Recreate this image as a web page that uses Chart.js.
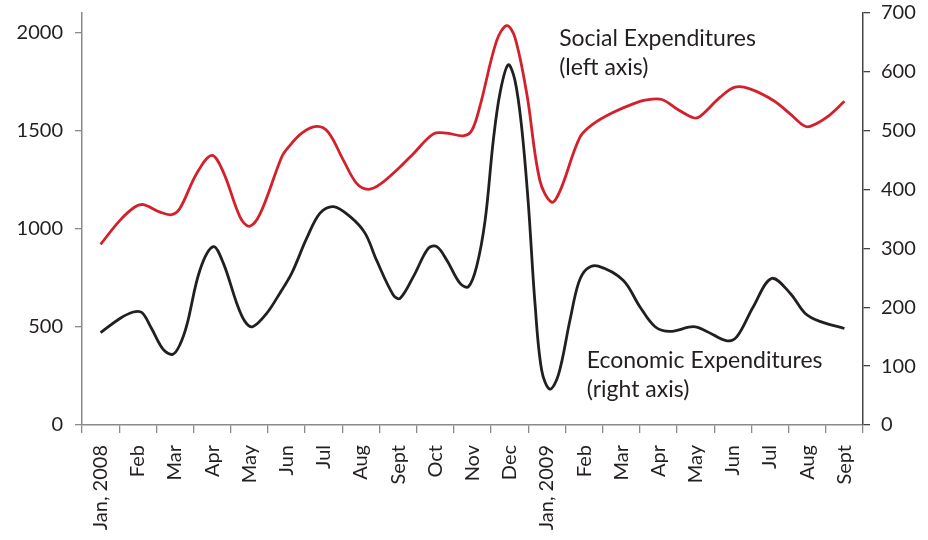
<!DOCTYPE html>
<html>
<head>
<meta charset="utf-8">
<script src="https://cdn.jsdelivr.net/npm/chart.js@4.4.1/dist/chart.umd.min.js"></script>
<style>
  html, body { margin: 0; padding: 0; background: #ffffff; }
  #wrap { width: 928px; height: 540px; }
</style>
</head>
<body>
<div id="wrap"><canvas id="chart" width="928" height="540"></canvas></div>
<script>
// Month categories along the bottom axis
const monthLabels = [
  'Jan, 2008', 'Feb', 'Mar', 'Apr', 'May', 'Jun', 'Jul', 'Aug', 'Sept', 'Oct', 'Nov', 'Dec',
  'Jan, 2009', 'Feb', 'Mar', 'Apr', 'May', 'Jun', 'Jul', 'Aug', 'Sept'
];

// Social expenditures (left axis); position in months from Jan 2008
const socialMonths = [
  0.00, 0.52, 0.92, 1.15, 1.60, 1.91, 2.13, 2.58, 2.99, 3.30, 3.75, 4.00, 4.29, 4.87, 5.05,
  5.41, 5.81, 6.12, 6.53, 6.89, 7.20, 7.51, 8.05, 8.41, 8.95, 9.31, 9.75, 9.98, 10.20, 10.65,
  10.92, 11.14, 11.46, 11.81, 12.13, 12.36, 12.89, 13.25, 13.79, 14.32, 14.68, 15.09, 15.49,
  15.94, 16.12, 16.66, 17.06, 17.46, 18.09, 18.54, 18.90, 19.08, 19.53, 20.00
];
const socialValues = [
  921, 1043, 1111, 1123, 1085, 1072, 1103, 1281, 1374, 1289, 1060, 1013, 1077, 1366, 1416,
  1488, 1522, 1493, 1349, 1230, 1201, 1226, 1315, 1383, 1484, 1488, 1474, 1501, 1625, 1959,
  2036, 1976, 1688, 1247, 1136, 1196, 1467, 1535, 1594, 1637, 1657, 1659, 1612,
  1566, 1573, 1671, 1722, 1713, 1654, 1586, 1527, 1522, 1569, 1650
];

// Economic expenditures (right axis); position in months from Jan 2008
const economicMonths = [
  0.00, 0.52, 0.88, 1.11, 1.37, 1.69, 1.94, 2.13, 2.32, 2.67, 3.03, 3.30, 3.66, 3.88, 4.09,
  4.47, 4.82, 5.14, 5.54, 5.90, 6.26, 6.71, 7.11, 7.42, 7.87, 8.05, 8.41, 8.81, 9.04, 9.31,
  9.66, 9.89, 10.11, 10.34, 10.56, 10.74, 10.96, 11.14, 11.32, 11.50, 11.68, 11.86, 12.08,
  12.31, 12.62, 12.85, 13.07, 13.38, 14.05, 14.50, 14.91, 15.31, 15.94, 16.30, 16.84, 17.11,
  17.55, 18.04, 18.54, 18.94, 19.34, 20.00
];
const economicValues = [
  157, 181, 192, 191, 164, 128, 120, 136, 170, 263, 303, 275, 207, 176, 167,
  190, 224, 258, 317, 360, 371, 354, 326, 280, 221, 215, 252, 300, 303, 280,
  241, 235, 269, 348, 484, 564, 612, 586, 507, 377, 207, 93, 61,
  85, 178, 241, 265, 270, 246, 201, 167, 159, 167, 159, 143, 150,
  201, 249, 224, 190, 176, 164
];

// Axis tick values
const leftTicks = [0, 500, 1000, 1500, 2000];
const rightTicks = [0, 100, 200, 300, 400, 500, 600, 700];

// Series captions
const socialCaption = ['Social Expenditures', '(left axis)'];
const economicCaption = ['Economic Expenditures', '(right axis)'];

const FONT = 'Lato, "Open Sans", sans-serif';
const TEXT = '#231f20';

const toPoints = (xs, ys) => xs.map((m, i) => ({ x: m, y: ys[i] }));

// Fixed axis widths; no extra label padding above/below the plot
const fixVertical = width => s => {
  s.width = width;
  s.paddingTop = 0;
  s.paddingBottom = 0;
};

// Draws the two series captions next to their lines, placed through the scales
const captionPlugin = {
  id: 'captions',
  afterDatasetsDraw(chart, args, opts) {
    const ctx = chart.ctx;
    ctx.save();
    ctx.font = opts.size + 'px ' + FONT;
    ctx.fillStyle = TEXT;
    ctx.textAlign = 'left';
    ctx.textBaseline = 'alphabetic';
    opts.items.forEach(it => {
      const x = chart.scales.x.getPixelForValue(it.month);
      const y = chart.scales[it.axis].getPixelForValue(it.value);
      it.lines.forEach((ln, k) => ctx.fillText(ln, x, y + k * opts.lineHeight));
    });
    ctx.restore();
  }
};

new Chart(document.getElementById('chart'), {
  type: 'line',
  data: {
    datasets: [
      {
        label: 'Social Expenditures',
        data: toPoints(socialMonths, socialValues),
        xAxisID: 'x', yAxisID: 'yL',
        borderColor: '#d3202a', borderWidth: 2.8,
        pointRadius: 0, tension: 0.35, fill: false
      },
      {
        label: 'Economic Expenditures',
        data: toPoints(economicMonths, economicValues),
        xAxisID: 'x', yAxisID: 'yR',
        borderColor: '#231f20', borderWidth: 2.8,
        pointRadius: 0, tension: 0.35, fill: false
      }
    ]
  },
  options: {
    responsive: false,
    animation: false,
    layout: { autoPadding: false, padding: { top: 13, left: 0, right: 0, bottom: 0 } },
    plugins: {
      legend: { display: false },
      tooltip: { enabled: false },
      captions: {
        size: 23,
        lineHeight: 29,
        items: [
          { month: 12.33, axis: 'yL', value: 1930, lines: socialCaption },
          { month: 13.07, axis: 'yR', value: 97, lines: economicCaption }
        ]
      }
    },
    scales: {
      x: {
        type: 'linear', min: -0.5, max: 20.5, display: false
      },
      xc: {
        type: 'category',
        labels: monthLabels,
        position: 'bottom',
        offset: true,
        grid: {
          offset: true, drawOnChartArea: false, drawTicks: true,
          tickLength: 8, color: '#8a8a8a', lineWidth: 1.3
        },
        border: { display: true, color: '#8a8a8a', width: 1.5 },
        ticks: {
          autoSkip: false, maxRotation: 90, minRotation: 90, padding: 12,
          color: TEXT, font: { family: FONT, size: 20 }
        },
        afterFit(s) { s.height = 115; s.paddingLeft = 0; s.paddingRight = 0; }
      },
      yL: {
        type: 'linear', position: 'left', min: 0, max: 2100,
        afterBuildTicks(s) { s.ticks = leftTicks.map(v => ({ value: v })); },
        grid: {
          drawOnChartArea: false, drawTicks: true, tickLength: 7,
          color: '#8a8a8a', lineWidth: 1.3
        },
        border: { display: true, color: '#8a8a8a', width: 1.5 },
        ticks: {
          padding: 12, color: TEXT, font: { family: FONT, size: 20 },
          callback: v => String(v)
        },
        afterFit: fixVertical(82)
      },
      yR: {
        type: 'linear', position: 'right', min: 0, max: 700,
        afterBuildTicks(s) { s.ticks = rightTicks.map(v => ({ value: v })); },
        grid: {
          drawOnChartArea: false, drawTicks: true, tickLength: 7,
          color: '#444444', lineWidth: 1.3
        },
        border: { display: true, color: '#444444', width: 1.5 },
        ticks: {
          padding: 11, color: TEXT, font: { family: FONT, size: 20 },
          callback: v => String(v)
        },
        afterFit: fixVertical(65)
      }
    }
  },
  plugins: [captionPlugin]
});
</script>
</body>
</html>
